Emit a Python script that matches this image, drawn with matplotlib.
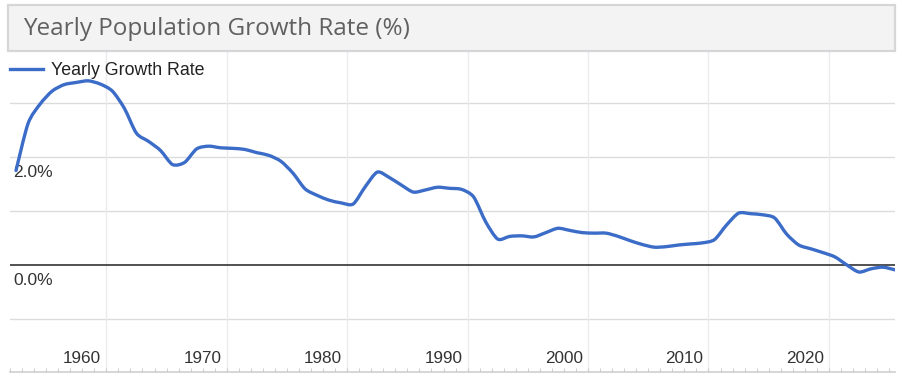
#!/usr/bin/env python3
"""Yearly population growth rate (%) -- line chart with boxed title, one series."""
import matplotlib
matplotlib.use("Agg")
import matplotlib.pyplot as plt
import matplotlib.transforms as mtransforms
from matplotlib.patches import Rectangle, PathPatch
from matplotlib.path import Path
from matplotlib.lines import Line2D

TITLE = "Yearly Population Growth Rate (%)"
SERIES_LABEL = "Yearly Growth Rate"

years = list(range(1952, 2026))
growth_rate = [
    1.75, 2.62, 2.98, 3.22, 3.34, 3.38, 3.41, 3.35, 3.22, 2.90,  # 1952-1961
    2.44, 2.29, 2.12, 1.86, 1.90, 2.15, 2.20, 2.17, 2.16, 2.14,  # 1962-1971
    2.08, 2.03, 1.92, 1.70, 1.41, 1.29, 1.20, 1.15, 1.13, 1.45,  # 1972-1981
    1.72, 1.62, 1.48, 1.35, 1.39, 1.44, 1.42, 1.40, 1.26, 0.80,  # 1982-1991
    0.48, 0.53, 0.54, 0.52, 0.60, 0.68, 0.64, 0.60, 0.59, 0.59,  # 1992-2001
    0.53, 0.45, 0.38, 0.33, 0.34, 0.37, 0.39, 0.41, 0.47, 0.74,  # 2002-2011
    0.96, 0.95, 0.93, 0.87, 0.57, 0.37, 0.30, 0.23, 0.15, 0.00,  # 2012-2021
    -0.13, -0.07, -0.04, -0.09,                                  # 2022-2025
]
decade_ticks = [1960, 1970, 1980, 1990, 2000, 2010, 2020]
decade_labels = ["1960", "1970", "1980", "1990", "2000", "2010", "2020"]
y_grid = [-1, 1, 2, 3]
y_label_values = [2.0, 0.0]
y_labels = ["2.0%", "0.0%"]

LINE_COLOR = "#3b6cc7"
TEXT_COLOR = "#333333"
FONT = ["Liberation Sans", "DejaVu Sans"]


def smooth_path(xs, ys, tension=0.8):
    """Catmull-Rom style curve through the points, as cubic Bezier segments."""
    n = len(xs)
    verts = [(xs[0], ys[0])]
    codes = [Path.MOVETO]
    for i in range(n - 1):
        i0, i2, i3 = max(i - 1, 0), i + 1, min(i + 2, n - 1)
        c1 = (xs[i] + (xs[i2] - xs[i0]) * tension / 6, ys[i] + (ys[i2] - ys[i0]) * tension / 6)
        c2 = (xs[i2] - (xs[i3] - xs[i]) * tension / 6, ys[i2] - (ys[i3] - ys[i]) * tension / 6)
        verts += [c1, c2, (xs[i2], ys[i2])]
        codes += [Path.CURVE4] * 3
    return Path(verts, codes)


W, H = 900, 379
fig = plt.figure(figsize=(W / 100, H / 100), dpi=100)

# title box
fig.patches.append(Rectangle((8 / W, 1 - 51 / H), 887 / W, 46 / H, transform=fig.transFigure,
                             facecolor="#f3f3f4", edgecolor="#d6d6d8", linewidth=1.6, zorder=0))
fig.text(23 / W, 1 - 29 / H, TITLE, fontsize=17.5, color="#606060", va="center", ha="left",
         family=["Open Sans", "DejaVu Sans"])

ax = fig.add_axes([10 / W, 1 - 372 / H, 885 / W, 320 / H])
for s in ("top", "right", "left"):
    ax.spines[s].set_visible(False)
ax.spines["bottom"].set_color("#cfcfcf")
ax.spines["bottom"].set_linewidth(1.2)

x_pos = [y + 0.5 for y in years]  # mid-year points
ax.add_patch(PathPatch(smooth_path(x_pos, growth_rate), facecolor="none", edgecolor=LINE_COLOR,
                       lw=2.4, joinstyle="round", capstyle="round", zorder=4))

ax.set_xlim(1952.59, 2025.49)
ax.set_ylim(-1.981, 3.944)

for g in y_grid:
    ax.axhline(g, color="#dcdcdc", lw=1.0, zorder=1)
ax.axhline(0, color="#222222", lw=1.1, zorder=2)
for d in decade_ticks:
    ax.axvline(d, color="#ebebef", lw=1.0, zorder=1)

ax.set_xticks(years, minor=True)
ax.set_xticks([])
ax.set_yticks([])
ax.tick_params(axis="x", which="minor", direction="in", length=3, color="#d0d0d0", width=0.8)

offset = mtransforms.offset_copy(ax.transData, fig=fig, x=-5, y=0, units="dots")
for d, lab in zip(decade_ticks, decade_labels):
    ax.text(d, -1.74, lab, transform=offset, ha="right", va="center", fontsize=12.3,
            color=TEXT_COLOR, family=FONT)

blend = mtransforms.blended_transform_factory(ax.transAxes, ax.transData)
for v, lab in zip(y_label_values, y_labels):
    ax.text(3 / 885, v - 0.28, lab, transform=blend, ha="left", va="center", fontsize=12.5,
            color=TEXT_COLOR, family=FONT)

handle = Line2D([], [], color=LINE_COLOR, lw=2.4)
leg = ax.legend([handle], [SERIES_LABEL], loc="upper left", bbox_to_anchor=(0, 1 - 10 / 320),
                frameon=False, handlelength=1.85, handletextpad=0.45, borderpad=0,
                borderaxespad=0, prop={"family": FONT, "size": 12.8})
for t in leg.get_texts():
    t.set_color("#222222")

fig.savefig("out.png", dpi=100)
